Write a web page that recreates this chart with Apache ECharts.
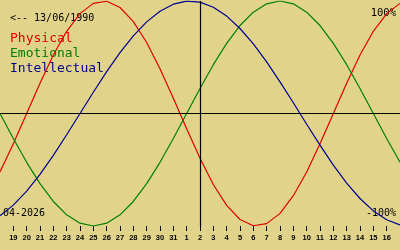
<!DOCTYPE html>
<html>
<head>
<meta charset="utf-8">
<script src="https://cdn.jsdelivr.net/npm/echarts@6/dist/echarts.min.js"></script>
<style>
html,body{margin:0;padding:0;background:#e1d48a;}
#chart{width:400px;height:250px;}
</style>
</head>
<body>
<div id="chart"></div>
<script>
// Days shown: 18 March 2026 .. 17 April 2026 (today = 2 April, centre)
var dayLabels = ['18','19','20','21','22','23','24','25','26','27','28','29','30','31',
  '1','2','3','4','5','6','7','8','9','10','11','12','13','14','15','16','17'];
var physical = [-0.5196,-0.2698,0,0.2698,0.5196,0.7308,0.8879,0.9791,0.9977,0.9423,0.8170,
  0.6311,0.3984,0.1362,-0.1362,-0.3984,-0.6311,-0.8170,-0.9423,-0.9977,-0.9791,-0.8879,
  -0.7308,-0.5196,-0.2698,0,0.2698,0.5196,0.7308,0.8879,0.9791];
var emotional = [0,-0.2225,-0.4339,-0.6235,-0.7818,-0.9010,-0.9749,-1,-0.9749,-0.9010,-0.7818,
  -0.6235,-0.4339,-0.2225,0,0.2225,0.4339,0.6235,0.7818,0.9010,0.9749,1,0.9749,0.9010,
  0.7818,0.6235,0.4339,0.2225,0,-0.2225,-0.4339];
var intellectual = [-0.9096,-0.8146,-0.6901,-0.5406,-0.3717,-0.1893,0,0.1893,0.3717,0.5406,
  0.6901,0.8146,0.9096,0.9718,0.9989,0.9898,0.9450,0.8660,0.7557,0.6182,0.4582,0.2817,
  0.0951,-0.0951,-0.2817,-0.4582,-0.6182,-0.7557,-0.8660,-0.9450,-0.9898];
var todayIndex = 15;
var birthText = '<-- 13/06/1990';
var monthText = '04-2026';
var seriesNames = ['Physical','Emotional','Intellectual'];
var colors = ['#e00000','#008000','#000090'];

var chart = echarts.init(document.getElementById('chart'), null, {renderer:'canvas'});
var mono = '"DejaVu Sans Mono", monospace';
function inner(i){ return i > 0 && i < dayLabels.length - 1; }
chart.setOption({
  animation: false,
  backgroundColor: '#e1d48a',
  grid: {left: 0, right: 0, top: 1, bottom: 24},
  xAxis: {
    type: 'category', data: dayLabels, boundaryGap: false, position: 'bottom',
    axisLine: {show: false, onZero: false},
    axisTick: {show: true, length: 5, interval: function(i){return inner(i);}, lineStyle: {color: '#000', width: 1}},
    axisLabel: {interval: function(i){return inner(i);}, fontSize: 7.5, fontWeight: 'bold',
      fontFamily: '"Liberation Sans", sans-serif', color: '#000', margin: 8},
    splitLine: {show: false}
  },
  yAxis: {type: 'value', min: -1, max: 1, show: false},
  series: [
    {name: seriesNames[0], type: 'line', data: physical, symbol: 'none', lineStyle: {color: colors[0], width: 1.2}, color: colors[0],
      markLine: {silent: true, symbol: 'none', label: {show: false},
        lineStyle: {color: '#000', width: 1.2, type: 'solid'},
        data: [{xAxis: todayIndex}, {yAxis: 0}]}},
    {name: seriesNames[1], type: 'line', data: emotional, symbol: 'none', lineStyle: {color: colors[1], width: 1.2}, color: colors[1]},
    {name: seriesNames[2], type: 'line', data: intellectual, symbol: 'none', lineStyle: {color: colors[2], width: 1.2}, color: colors[2]}
  ],
  graphic: [
    {type: 'text', x: 10, y: 18, style: {text: birthText, font: '10px ' + mono, fill: '#000', verticalAlign: 'middle'}},
    {type: 'text', x: 10, y: 39, style: {text: seriesNames[0], font: '13px ' + mono, fill: colors[0], verticalAlign: 'middle'}},
    {type: 'text', x: 10, y: 54, style: {text: seriesNames[1], font: '13px ' + mono, fill: colors[1], verticalAlign: 'middle'}},
    {type: 'text', x: 10, y: 69, style: {text: seriesNames[2], font: '13px ' + mono, fill: colors[2], verticalAlign: 'middle'}},
    {type: 'text', x: 396, y: 13, style: {text: '100%', font: '10.5px ' + mono, fill: '#000', align: 'right', verticalAlign: 'middle'}},
    {type: 'text', x: 396, y: 213, style: {text: '-100%', font: '10px ' + mono, fill: '#000', align: 'right', verticalAlign: 'middle'}},
    {type: 'text', x: 3, y: 213, style: {text: monthText, font: '10px ' + mono, fill: '#000', verticalAlign: 'middle'}}
  ]
});
</script>
</body>
</html>
